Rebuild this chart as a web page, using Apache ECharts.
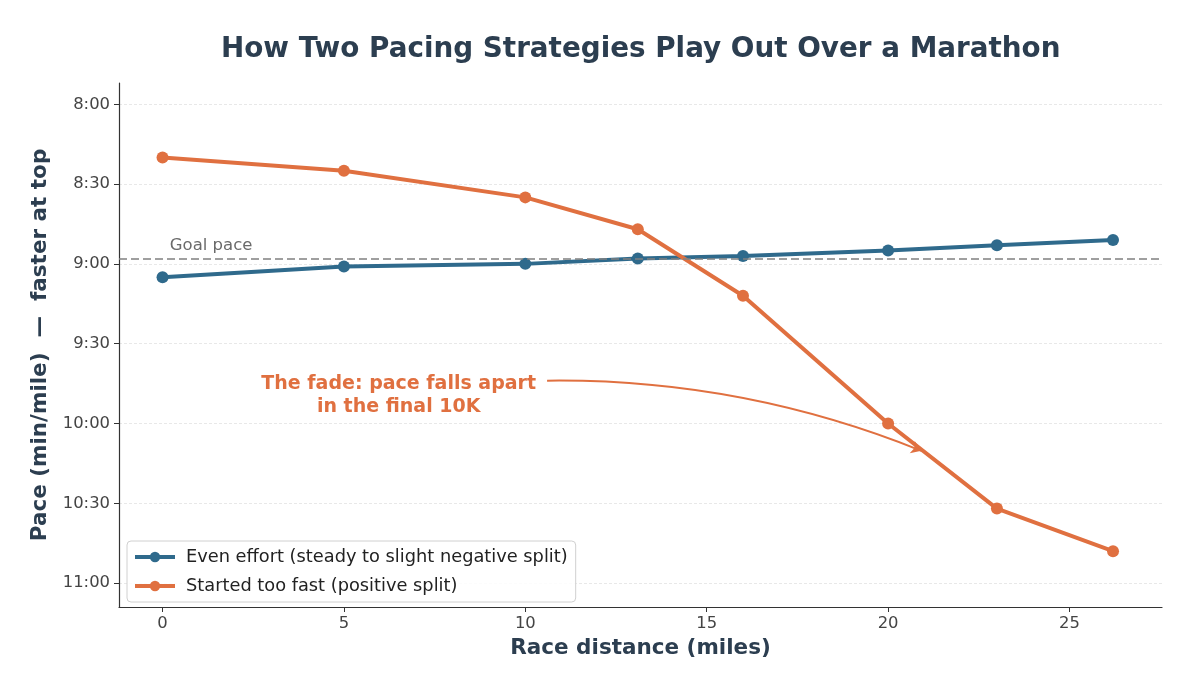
<!DOCTYPE html>
<html>
<head>
<meta charset="utf-8">
<script src="https://cdn.jsdelivr.net/npm/echarts@6/dist/echarts.min.js"></script>
<style>
  html, body { margin: 0; padding: 0; background: #fff; }
  #chart { width: 1200px; height: 696px; }
</style>
</head>
<body>
<div id="chart"></div>
<script>
// miles along the course, pace in seconds per mile
var miles = [0, 5, 10, 13.1, 16, 20, 23, 26.2];
var evenPace = [545, 541, 540, 538, 537, 535, 533, 531];
var fastPace = [500, 505, 515, 527, 552, 600, 632, 648];
var goalPace = 538;

var yTicks = [480, 510, 540, 570, 600, 630, 660];
var xTicks = [0, 5, 10, 15, 20, 25];

// annotation bits (data coords)
var fadeText = [6.51, 589.5];
var fadeArrow = [[10.6, 583.9], [20.92, 610.3]];
var goalText = [0.2, 533];

var BLUE = '#2f6a8c', ORANGE = '#e07040', INK = '#2c3e50';
var FONT = 'DejaVu Sans';

function fmtPace(v) {
    var m = Math.floor(v / 60), s = Math.round(v - m * 60);
    return m + ':' + (s < 10 ? '0' + s : s);
}
function pairs(xs, ys) {
    return xs.map(function (x, i) { return [x, ys[i]]; });
}

var chart = echarts.init(document.getElementById('chart'), null, { renderer: 'canvas' });

chart.setOption({
    backgroundColor: '#fff',
    textStyle: { fontFamily: FONT },
    animation: false,
    title: {
        text: 'How Two Pacing Strategies Play Out Over a Marathon',
        left: 216, top: 31,
        textStyle: { fontFamily: FONT, fontSize: 27.8, fontWeight: 'bold', color: INK }
    },
    grid: { left: 119, right: 38, top: 83, bottom: 89, containLabel: false },
    legend: {
        left: 127, top: 541,
        orient: 'vertical',
        itemWidth: 40, itemHeight: 13, itemGap: 11,
        padding: [7, 8, 7, 6],
        borderColor: '#d0d0d0', borderWidth: 1, borderRadius: 4,
        backgroundColor: 'rgba(255,255,255,0.85)',
        lineStyle: { width: 4 },
        textStyle: { fontFamily: FONT, fontSize: 17.8, color: '#222', padding: [0, 0, 0, 6] },
        data: ['Even effort (steady to slight negative split)', 'Started too fast (positive split)']
    },
    xAxis: {
        type: 'value', min: -1.2, max: 27.55,
        name: 'Race distance (miles)', nameLocation: 'middle', nameGap: 30,
        nameTextStyle: { fontFamily: FONT, fontSize: 21.5, fontWeight: 'bold', color: INK },
        axisLine: { onZero: false, lineStyle: { color: '#333', width: 1.2 } },
        axisTick: { show: true, length: 5, lineStyle: { color: '#333' }, customValues: xTicks },
        axisLabel: { fontSize: 16.4, color: '#444', margin: 9, customValues: xTicks },
        splitLine: { show: false }
    },
    yAxis: {
        type: 'value', inverse: true, min: 472, max: 669,
        name: 'Pace (min/mile)  —  faster at top', nameLocation: 'middle', nameGap: 63, nameRotate: 90,
        nameTextStyle: { fontFamily: FONT, fontSize: 21.5, fontWeight: 'bold', color: INK },
        axisLine: { show: true, onZero: false, lineStyle: { color: '#333', width: 1.2 } },
        axisTick: { show: true, length: 5, lineStyle: { color: '#333' }, customValues: yTicks },
        axisLabel: { fontSize: 16.4, color: '#444', margin: 9, formatter: fmtPace, customValues: yTicks },
        splitLine: { show: true, customValues: yTicks, lineStyle: { color: '#e8e8e8', type: [3, 2], width: 1 } }
    },
    series: [
        {
            name: 'Even effort (steady to slight negative split)',
            type: 'line', data: pairs(miles, evenPace),
            symbol: 'circle', symbolSize: 12,
            itemStyle: { color: BLUE },
            lineStyle: { color: BLUE, width: 4 },
            z: 3,
            markLine: {
                silent: true, symbol: 'none',
                lineStyle: { color: '#808080', type: [8, 4], width: 1.5 },
                label: { show: false },
                data: [{ yAxis: goalPace }]
            }
        },
        {
            name: 'Started too fast (positive split)',
            type: 'line', data: pairs(miles, fastPace),
            symbol: 'circle', symbolSize: 12,
            itemStyle: { color: ORANGE },
            lineStyle: { color: ORANGE, width: 4 },
            z: 4
        },
        {
            name: 'fade-arrow', type: 'lines', coordinateSystem: 'cartesian2d',
            symbol: ['none', 'arrow'], symbolSize: 10,
            lineStyle: { color: ORANGE, width: 2, curveness: 0.1, opacity: 1 },
            data: [{ coords: fadeArrow }],
            z: 5
        },
        {
            name: 'notes', type: 'scatter', symbolSize: 0, silent: true,
            itemStyle: { opacity: 1 },
            data: [
                { value: fadeText, label: {
                    show: true, position: 'inside',
                    formatter: 'The fade: pace falls apart\nin the final 10K',
                    fontFamily: FONT, fontSize: 19, fontWeight: 'bold', color: ORANGE,
                    align: 'center', lineHeight: 23
                } },
                { value: goalText, label: {
                    show: true, position: 'inside', align: 'left',
                    formatter: 'Goal pace',
                    fontFamily: FONT, fontSize: 16.5, color: '#6a6a6a'
                } }
            ],
            z: 6
        }
    ]
});
</script>
</body>
</html>
